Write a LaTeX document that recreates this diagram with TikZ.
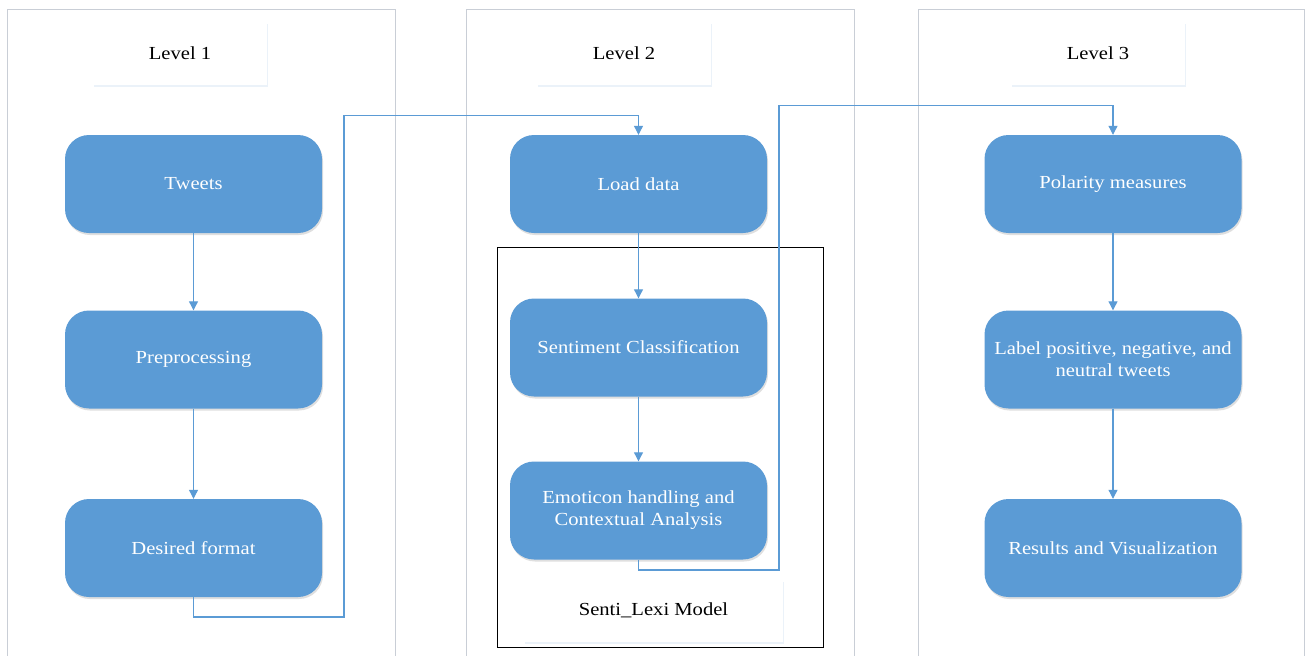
\documentclass[tikz,border=0pt]{standalone}
\usepackage{fontspec}
\setmainfont{Liberation Serif}[FakeStretch=1.12]
\usetikzlibrary{arrows.meta, positioning, shadows}
\definecolor{boxblue}{HTML}{5B9BD5}
\definecolor{lanegray}{HTML}{C9CED6}
\tikzstyle{arrow} = [draw=boxblue, line width=1.1pt, -{Triangle[length=9pt,width=9pt]}]
\tikzstyle{process} = [rectangle, rounded corners=24pt, fill=boxblue, minimum width=257pt, minimum height=98pt, text=white, align=center, inner sep=0pt, drop shadow={opacity=0.25, shadow xshift=1pt, shadow yshift=-2pt}]
\tikzstyle{header} = [rectangle, fill=white, minimum width=174pt, minimum height=63pt, text=black, align=center, drop shadow={opacity=0.12, fill=boxblue, shadow xshift=1pt, shadow yshift=-2pt}]
\tikzstyle{lane} = [draw=lanegray, line width=1pt]

\begin{document}
\begin{tikzpicture}[x=1pt, y=-1pt, font=\fontsize{18.4}{22}\selectfont]
\useasboundingbox (0,0) rectangle (1307,656);
\fill[white] (0,0) rectangle (1307,656);

% Lanes
\draw [lane] (7,660) |- (395,9) -- (395,660);
\draw [lane] (466,660) |- (854,9) -- (854,660);
\draw [lane] (918,660) |- (1304,9) -- (1304,660);

% Headers
\node (levelOne) [header] at (180,53.5) {Level 1};
\node (levelTwo) [header] at (624,53.5) {Level 2};
\node (levelThree) [header] at (1098,53.5) {Level 3};

% Model frame
\draw [black, line width=0.9pt] (497,247) rectangle (823,647);
\node (modelName) [header, minimum width=259pt, minimum height=62pt] at (653.5,610.5) {Senti\_Lexi Model};

% Placement of nodes
\node (tweets) [process] at (193.5,184) {Tweets};
\node (preproc) [process] at (193.5,359.5) {Preprocessing};
\node (desired) [process] at (193.5,548) {Desired format};

\node (loadData) [process] at (638.5,184) {Load data};
\node (sentClass) [process] at (638.5,347.5) {Sentiment Classification};
\node (emoticon) [process] at (638.5,510.5) {Emoticon handling and\\Contextual Analysis};

\node (polarity) [process] at (1113,184) {Polarity measures};
\node (labelTw) [process] at (1113,359.5) {Label positive, negative, and\\neutral tweets};
\node (results) [process] at (1113,548) {Results and Visualization};

% Placement of edges
\draw [arrow] (tweets) -- (preproc);
\draw [arrow] (preproc) -- (desired);
\draw [arrow] (loadData) -- (sentClass);
\draw [arrow] (sentClass) -- (emoticon);
\draw [arrow] (polarity) -- (labelTw);
\draw [arrow] (labelTw) -- (results);

% level 1 to level 2
\coordinate (jumpOne) at (344,617);
\draw [arrow] (desired.south) |- (jumpOne) |- ([yshift=19pt]loadData.north) -- (loadData.north);
% level 2 to level 3
\coordinate (jumpTwo) at (779,570);
\draw [arrow] (emoticon.south) |- (jumpTwo) |- ([yshift=29pt]polarity.north) -- (polarity.north);

\end{tikzpicture}
\end{document}
